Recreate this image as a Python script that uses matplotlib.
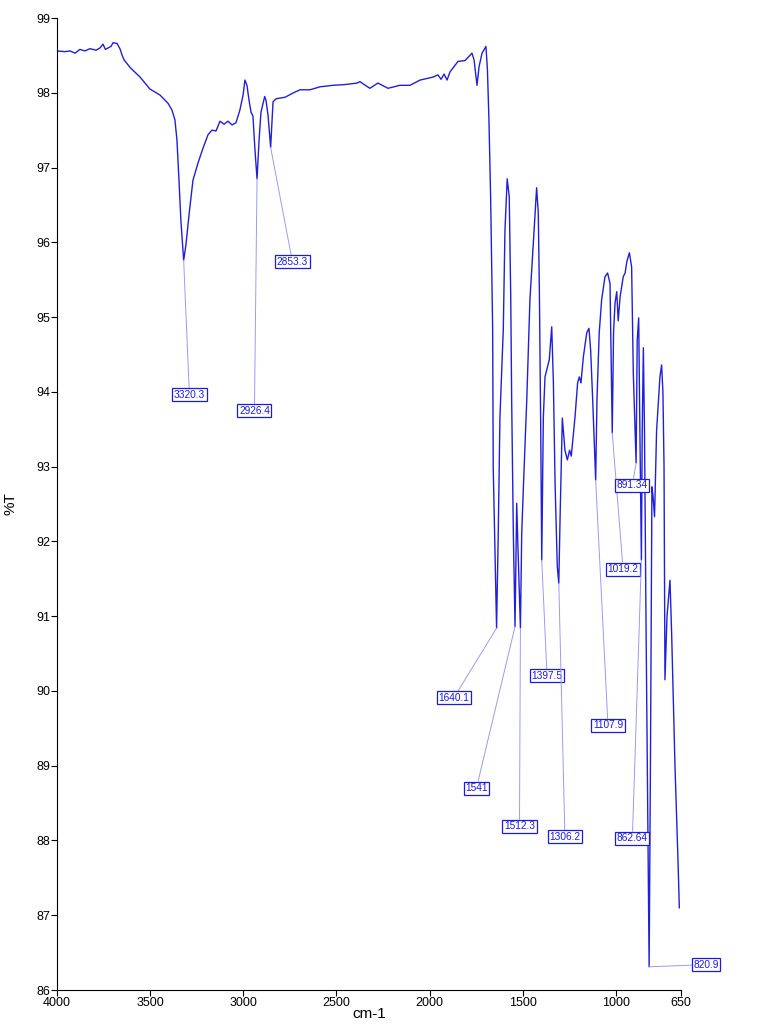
import matplotlib
matplotlib.use("Agg")
import matplotlib.pyplot as plt

plt.rcParams['font.family'] = ['Liberation Sans', 'DejaVu Sans']

# spectrum (wavenumber cm-1, %T)
wavenumber = [
    4000, 3957, 3930, 3903, 3877, 3850, 3823, 3790, 3769, 3753, 3740, 3726, 3710, 3699,
    3678, 3662, 3650, 3640, 3608, 3554, 3501, 3447, 3404, 3383, 3367, 3356, 3345, 3335,
    3320, 3308, 3291, 3270, 3243, 3216, 3189, 3168, 3146, 3125, 3103, 3082, 3060, 3039,
    3018, 3001, 2991, 2980, 2969, 2958, 2948, 2937, 2926, 2915, 2905, 2885, 2878, 2867,
    2853, 2840, 2824, 2776, 2722, 2695, 2642, 2588, 2518, 2454, 2389, 2373, 2357, 2320,
    2277, 2223, 2159, 2105, 2051, 1981, 1955, 1938, 1922, 1906, 1890, 1847, 1810, 1772,
    1761, 1745, 1734, 1718, 1697, 1689, 1681, 1672, 1661, 1658, 1640, 1631, 1622, 1604,
    1595, 1583, 1572, 1564, 1559, 1550, 1541, 1532, 1525, 1512, 1505, 1496, 1478, 1461,
    1439, 1425, 1416, 1410, 1403, 1397.5, 1389, 1380, 1371, 1357, 1344, 1335, 1326, 1314,
    1306, 1299, 1287, 1273, 1260, 1248, 1239, 1219, 1205, 1196, 1187, 1174, 1156, 1144,
    1135, 1124, 1108, 1101, 1089, 1076, 1058, 1044, 1031, 1026, 1019, 1012, 1004, 995,
    987, 977, 960, 950, 940, 927, 915, 906, 891, 885, 877, 873, 862.6, 858, 852, 846,
    838, 821, 814, 806, 800, 792, 781, 763, 754, 747, 741, 736, 725, 709, 700, 682,
    665, 659,
]
transmittance = [
    98.56, 98.55, 98.56, 98.53, 98.58, 98.56, 98.59, 98.57, 98.60, 98.65, 98.58, 98.60, 98.62, 98.67,
    98.66, 98.59, 98.50, 98.44, 98.34, 98.21, 98.05, 97.97, 97.86, 97.77, 97.64, 97.37, 96.83, 96.30,
    95.76, 95.96, 96.37, 96.83, 97.06, 97.26, 97.44, 97.50, 97.49, 97.62, 97.58, 97.62, 97.57, 97.60,
    97.77, 97.97, 98.17, 98.10, 97.90, 97.74, 97.69, 97.23, 96.85, 97.37, 97.74, 97.95, 97.90, 97.70,
    97.27, 97.88, 97.92, 97.94, 98.01, 98.04, 98.04, 98.08, 98.10, 98.11, 98.13, 98.15, 98.12, 98.06,
    98.13, 98.06, 98.10, 98.10, 98.17, 98.21, 98.24, 98.18, 98.25, 98.17, 98.28, 98.42, 98.43, 98.53,
    98.44, 98.10, 98.35, 98.53, 98.62, 98.30, 97.64, 96.61, 94.83, 92.99, 90.84, 92.11, 93.66, 94.83,
    96.16, 96.85, 96.61, 95.27, 93.89, 92.11, 90.86, 92.51, 91.90, 90.84, 92.11, 92.73, 93.89, 95.23,
    96.16, 96.73, 96.39, 95.30, 93.50, 91.75, 93.66, 94.20, 94.29, 94.43, 94.87, 94.12, 92.78, 91.66,
    91.44, 92.33, 93.65, 93.22, 93.09, 93.22, 93.14, 93.66, 94.12, 94.20, 94.12, 94.47, 94.79, 94.85,
    94.56, 93.89, 92.82, 93.90, 94.79, 95.23, 95.54, 95.59, 95.45, 94.60, 93.45, 94.80, 95.19, 95.34,
    94.95, 95.27, 95.54, 95.59, 95.75, 95.86, 95.67, 94.25, 93.05, 94.69, 94.99, 94.00, 91.75, 93.50, 94.59, 93.50,
    91.00, 86.31, 89.00, 92.73, 92.60, 92.33, 93.48, 94.20, 94.36, 94.00, 93.00, 90.15, 91.00, 91.48, 90.75, 88.98,
    87.65, 87.10,
]

# peak annotations: text, tip of leader line, label centre
peak_text = ['3320.3', '2926.4', '2853.3', '1640.1', '1541', '1512.3', '1397.5',
             '1306.2', '1107.9', '1019.2', '891.34', '862.64', '820.9']
tip_wn = [3320, 2926, 2853, 1640, 1541, 1512, 1397.5, 1306, 1108, 1019, 891, 862.6, 821]
tip_t = [95.76, 96.85, 97.27, 90.84, 90.86, 90.84, 91.75, 91.44, 92.82, 93.45, 93.05, 91.75, 86.31]
label_wn = [3289, 2940, 2736, 1869, 1748, 1517, 1369, 1273, 1042, 961, 911, 911, 516]
label_t = [93.96, 93.75, 95.74, 89.91, 88.70, 88.19, 90.20, 88.05, 89.54, 91.63, 92.75, 88.03, 86.34]

x_ticks = [4000, 3500, 3000, 2500, 2000, 1500, 1000, 650]
y_ticks = [86, 87, 88, 89, 90, 91, 92, 93, 94, 95, 96, 97, 98, 99]

fig = plt.figure(figsize=(7.68, 10.24), dpi=100)
ax = fig.add_axes([0.0742, 0.0332, 0.8125, 0.9492])

ax.plot(wavenumber, transmittance, color='#1f1fdc', lw=1.0)

for txt, xw, yt, lx, ly in zip(peak_text, tip_wn, tip_t, label_wn, label_t):
    ax.annotate(txt, xy=(xw, yt), xytext=(lx, ly), ha='center', va='center',
                fontsize=7.3, color='#1a1ae6', annotation_clip=False,
                bbox=dict(boxstyle='square,pad=0.15', fc='white', ec='#1a1ae6', lw=0.9),
                arrowprops=dict(arrowstyle='-', color='#9a9af5', lw=0.7,
                                shrinkA=0, shrinkB=0))

ax.set_xlim(4000, 650)
ax.set_ylim(86, 99)
ax.set_xticks(x_ticks)
ax.set_yticks(y_ticks)
ax.tick_params(labelsize=9, length=4, width=0.8, pad=1)
for s in ['top', 'right']:
    ax.spines[s].set_visible(False)

ax.set_xlabel('cm-1', fontsize=11)
ax.set_ylabel('%T', fontsize=11)
ax.xaxis.set_label_coords(0.5, -0.017)
ax.yaxis.set_label_coords(-0.064, 0.5)

fig.savefig('out.png', dpi=100)
